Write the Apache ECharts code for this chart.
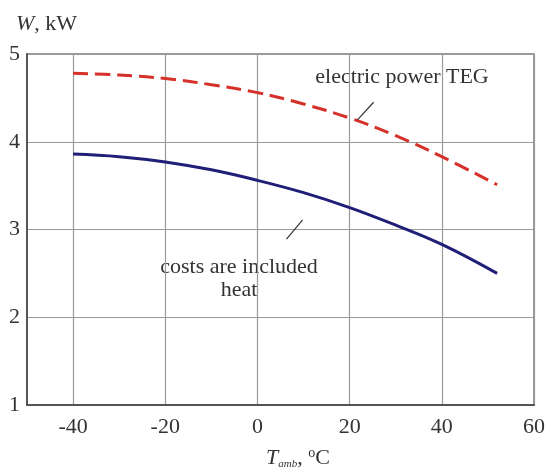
<!DOCTYPE html>
<html>
<head>
<meta charset="utf-8">
<script src="https://cdn.jsdelivr.net/npm/echarts@6/dist/echarts.min.js"></script>
<style>
  html, body { margin: 0; padding: 0; background: #fff; }
  #chart { width: 550px; height: 469px; }
</style>
</head>
<body>
<div id="chart"></div>
<script>
// temperatures, °C
const temps = [-40, -30, -20, -10, 0, 10, 20, 30, 40, 52]
// electric power TEG, kW
const tegPower = [4.78, 4.76, 4.72, 4.65, 4.56, 4.43, 4.27, 4.07, 3.83, 3.51]
// costs are included heat, kW
const heatCosts = [3.86, 3.83, 3.77, 3.68, 3.56, 3.42, 3.25, 3.05, 2.83, 2.50]
// x tick labels
const xTicks = [-40, -20, 0, 20, 40, 60]

const serif = '"Liberation Serif", "DejaVu Serif", serif'
const gridColor = '#9a9a9a'

const myChart = echarts.init(document.getElementById('chart'))

const pair = (xs, ys) => xs.map((x, i) => [x, ys[i]])

const option = {
  animation: false,
  grid: {
    left: 27,
    right: 16,
    top: 54,
    bottom: 64,
    show: true,
    borderColor: '#7a7a7a',
    borderWidth: 1.5
  },
  xAxis: {
    type: 'value',
    min: -50,
    max: 60,
    interval: 10,
    axisLine: { onZero: false, lineStyle: { color: '#555', width: 2 } },
    axisTick: { show: false, customValues: xTicks },
    axisLabel: {
      margin: 11,
      color: '#333',
      fontFamily: serif,
      fontSize: 22,
      customValues: xTicks
    },
    splitLine: { lineStyle: { color: gridColor, width: 1.2 } }
  },
  yAxis: {
    type: 'value',
    min: 1,
    max: 5,
    interval: 1,
    axisLine: { show: true, onZero: false, lineStyle: { color: '#555', width: 2 } },
    axisTick: { show: false },
    axisLabel: {
      margin: 7,
      color: '#333',
      fontFamily: serif,
      fontSize: 22
    },
    splitLine: { lineStyle: { color: gridColor, width: 1.2 } }
  },
  series: [
    {
      name: 'electric power TEG',
      type: 'line',
      smooth: 0.4,
      symbol: 'none',
      lineStyle: { color: '#d6302a', width: 3, type: [15, 7] },
      data: pair(temps, tegPower),
      markLine: {
        silent: true,
        symbol: 'none',
        label: { show: false },
        lineStyle: { color: '#333', width: 1.2, type: 'solid' },
        data: [[{ coord: [21.7, 4.25] }, { coord: [25.2, 4.45] }]]
      }
    },
    {
      name: 'costs are included heat',
      type: 'line',
      smooth: 0.4,
      symbol: 'none',
      lineStyle: { color: '#1f1f78', width: 3 },
      data: pair(temps, heatCosts),
      markLine: {
        silent: true,
        symbol: 'none',
        label: { show: false },
        lineStyle: { color: '#333', width: 1.2, type: 'solid' },
        data: [[{ coord: [6.3, 2.89] }, { coord: [9.8, 3.11] }]]
      }
    }
  ],
  graphic: [
    {
      type: 'text',
      left: 16,
      top: 13,
      style: {
        text: '{i|W}, kW',
        fontFamily: serif,
        fontSize: 22,
        fill: '#333',
        rich: { i: { fontStyle: 'italic', fontFamily: serif, fontSize: 22 } }
      }
    },
    {
      type: 'text',
      left: 266,
      top: 446,
      style: {
        text: '{i|T}{s|amb}, {o|o}C',
        fontFamily: serif,
        fontSize: 22,
        fill: '#333',
        rich: {
          i: { fontStyle: 'italic', fontFamily: serif, fontSize: 22 },
          s: { fontStyle: 'italic', fontFamily: serif, fontSize: 11, padding: [12, 0, 0, 0] },
          o: { fontFamily: serif, fontSize: 14, padding: [0, 0, 10, 0] }
        }
      }
    },
    {
      type: 'text',
      x: 402,
      y: 77,
      style: {
        text: 'electric power TEG',
        fontFamily: serif,
        fontSize: 22,
        fill: '#333',
        align: 'center',
        verticalAlign: 'middle'
      }
    },
    {
      type: 'text',
      x: 239,
      y: 279,
      style: {
        text: 'costs are included\nheat',
        fontFamily: serif,
        fontSize: 22,
        lineHeight: 23,
        fill: '#333',
        align: 'center',
        verticalAlign: 'middle'
      }
    }
  ]
}

option && myChart.setOption(option)
</script>
</body>
</html>
